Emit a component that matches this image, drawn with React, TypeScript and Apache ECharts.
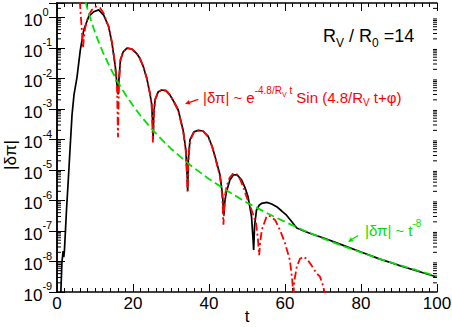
import React, { useEffect, useRef } from "react";
import * as echarts from "echarts";

const FONT = '"Liberation Sans", Arial, Helvetica, sans-serif';

// x range and log y range
const X_MIN = 0;
const X_MAX = 100;
const X_INTERVAL = 20;
const Y_MIN = 1e-9;
const Y_MAX = 3;

// minor log tick multipliers within each decade
const decadeExponents = [-9, -8, -7, -6, -5, -4, -3, -2, -1, 0];
const minorMultipliers = [2, 3, 4, 5, 6, 7, 8, 9];

// full numerical solution |δπ|(t)
const blackT = [1.0, 1.3, 1.6, 1.78, 1.95, 2.2, 2.5, 2.97, 3.42, 3.95, 4.47, 5.26, 6.13, 7.03, 8.34, 9.66, 10.97, 12.29, 13.6, 14.47, 15.34, 15.8, 16.1, 16.35, 16.7, 17.4, 18.4, 19.7, 21.0, 21.8, 22.7, 23.6, 24.4, 24.9, 25.2, 25.3, 25.45, 25.8, 26.6, 27.5, 28.7, 29.7, 30.8, 31.9, 33.2, 33.9, 34.3, 34.4, 34.55, 35.0, 36.05, 37.2, 38.4, 39.8, 40.8, 41.6, 42.9, 43.55, 43.9, 44.2, 44.6, 45.5, 46.4, 47.4, 48.6, 49.5, 50.3, 51.2, 51.6, 51.75, 52.0, 52.5, 53.2, 53.9, 55.2, 56.5, 57.8, 59.0, 60.4, 61.8, 63.1, 65.0, 67.0, 70.0, 75.0, 80.0, 85.0, 90.0, 95.0, 100.0];
const blackV = [9e-10, 9.5e-9, 2.2e-8, 1.4e-8, 2.2e-8, 9e-8, 4.9e-7, 4.7e-6, 4.6e-5, 6.3e-4, 2.9e-3, 1.1e-2, 8.5e-2, 0.39, 1.07, 1.55, 1.78, 1.2, 0.5, 0.145, 0.025, 6e-3, 3e-3, 1.2e-2, 0.041, 0.074, 0.1, 0.093, 0.066, 0.046, 0.025, 0.0105, 3.5e-3, 1.5e-3, 3e-4, 1e-4, 6e-4, 2e-3, 3.6e-3, 4.2e-3, 4e-3, 2.9e-3, 1.7e-3, 9.3e-4, 2e-4, 4.6e-5, 5e-6, 2e-6, 2e-5, 1e-4, 1.8e-4, 2.0e-4, 1.9e-4, 1.26e-4, 6e-5, 2.75e-5, 6.9e-6, 1.5e-6, 3.3e-7, 1e-6, 1.95e-6, 4.7e-6, 6.9e-6, 6.9e-6, 4.7e-6, 2.6e-6, 1.3e-6, 2.9e-7, 5e-8, 2.4e-8, 1.5e-7, 4.9e-7, 7e-7, 8.1e-7, 8.7e-7, 7.7e-7, 6.3e-7, 4.7e-7, 3.3e-7, 2e-7, 1.25e-7, 1e-7, 8e-8, 6e-8, 3.5e-8, 2.05e-8, 1.2e-8, 7.5e-9, 4.8e-9, 3.1e-9];

// damped oscillation fit |δπ| ~ e^{-4.8/Rv t} sin(4.8/Rv t + φ)
const redT = [6.0, 6.3, 6.6, 6.85, 7.05, 7.4, 8.2, 9.2, 10.3, 11.3, 12.3, 13.6, 14.5, 15.3, 15.8, 16.05, 16.3, 16.7, 17.4, 18.4, 19.7, 21.0, 21.8, 22.7, 23.6, 24.4, 24.9, 25.25, 25.5, 25.8, 26.6, 27.5, 28.7, 29.7, 30.8, 31.9, 33.2, 33.9, 34.35, 34.6, 35.0, 36.05, 37.2, 38.4, 39.8, 40.8, 41.6, 42.9, 43.5, 43.8, 44.1, 44.6, 45.4, 46.4, 47.4, 48.2, 49.1, 49.9, 51.2, 52.4, 52.9, 53.2, 53.45, 53.9, 55.2, 56.0, 57.4, 58.7, 60.0, 61.3, 61.9, 62.2, 62.5, 63.1, 63.9, 64.8, 65.8, 66.6, 68.3, 69.2, 70.1, 70.5];
const redV = [3.5, 1.0, 0.3, 0.1, 0.2, 0.45, 1.1, 1.8, 2.3, 2.1, 1.35, 0.5, 0.15, 0.027, 5e-3, 1.2e-4, 6e-3, 0.04, 0.075, 0.1, 0.092, 0.066, 0.046, 0.025, 0.0105, 3.5e-3, 1.4e-3, 8e-5, 8e-4, 2e-3, 3.6e-3, 4.2e-3, 4e-3, 2.9e-3, 1.7e-3, 9e-4, 1.9e-4, 4e-5, 2e-6, 2.5e-5, 9e-5, 1.75e-4, 2.0e-4, 1.9e-4, 1.2e-4, 6e-5, 2.6e-5, 6e-6, 1.3e-6, 1.6e-7, 1.2e-6, 2.8e-6, 5.5e-6, 7.8e-6, 7.2e-6, 4.9e-6, 2.6e-6, 1.3e-6, 4.9e-7, 1.8e-7, 5e-8, 1.6e-8, 4e-8, 1.1e-7, 3.1e-7, 3.1e-7, 2.3e-7, 1.07e-7, 4e-8, 1.1e-8, 2.5e-9, 8e-10, 2.5e-9, 6.8e-9, 1.2e-8, 1.45e-8, 1.2e-8, 8.7e-9, 4.1e-9, 3.2e-9, 1.5e-9, 8e-10];

// power-law tail |δπ| ~ t^-8
const greenT = [7.5, 8, 9, 10, 11, 12, 14, 16, 18, 20, 22, 25, 28, 30, 35, 40, 45, 50, 55, 60, 65, 70, 75, 80, 85, 90, 95, 100];
const greenV = [3.3, 1.97, 0.77, 0.33, 0.154, 0.077, 0.0224, 7.7e-3, 3.0e-3, 1.3e-3, 6.0e-4, 2.17e-4, 8.8e-5, 5.0e-5, 1.47e-5, 5.1e-6, 2.0e-6, 8.5e-7, 4.0e-7, 2.0e-7, 1.04e-7, 5.7e-8, 3.3e-8, 2.0e-8, 1.2e-8, 7.7e-9, 5.0e-9, 3.3e-9];

const zip = (a: number[], b: number[]) => a.map((x, i) => [x, b[i]]);

function arrow(tail: number[], head: number[], color: string) {
  const dx = head[0] - tail[0];
  const dy = head[1] - tail[1];
  const len = Math.hypot(dx, dy);
  const ux = dx / len, uy = dy / len;
  const hl = 5, hw = 2.4;
  const bx = head[0] - ux * hl, by = head[1] - uy * hl;
  return [
    { type: "line", shape: { x1: tail[0], y1: tail[1], x2: bx, y2: by }, style: { stroke: color, lineWidth: 1.3 } },
    {
      type: "polygon",
      shape: { points: [head, [bx - uy * hw, by + ux * hw], [bx + uy * hw, by - ux * hw]] },
      style: { fill: color },
    },
  ];
}

export default function App() {
  const ref = useRef<HTMLDivElement>(null);
  useEffect(() => {
    document.body.style.margin = "0";
    const chart = echarts.init(ref.current!, null, { renderer: "svg" });
    const minorTicks: number[][] = [];
    decadeExponents.forEach((e) =>
      minorMultipliers.forEach((m) => {
        const v = m * Math.pow(10, e);
        if (v < Y_MAX) minorTicks.push([X_MIN, v]);
      })
    );
    const yLabel = (value: number) => {
      const l = Math.log10(value);
      const e = Math.round(l);
      if (Math.abs(l - e) > 1e-6) return "";
      return `{b|10}{s|${e}}`;
    };
    const xAxisCommon = {
      type: "value",
      min: X_MIN,
      max: X_MAX,
      interval: X_INTERVAL,
      axisLine: { show: true, lineStyle: { color: "#000", width: 1.5 } },
      axisTick: { show: true, inside: true, length: 8, lineStyle: { color: "#000", width: 1 } },
      minorTick: { show: true, splitNumber: 10, length: 4, lineStyle: { color: "#000", width: 1 } },
      splitLine: { show: false },
      minorSplitLine: { show: false },
    };
    const yAxisCommon = {
      type: "log",
      logBase: 10,
      min: Y_MIN,
      max: Y_MAX,
      axisLine: { show: true, lineStyle: { color: "#000", width: 1.5 } },
      axisTick: { show: true, inside: true, length: 8, lineStyle: { color: "#000", width: 1 } },
      splitLine: { show: false },
    };
    const option: any = {
      animation: false,
      textStyle: { fontFamily: FONT },
      grid: { left: 57, right: 15, top: 3, bottom: 35, containLabel: false, outerBoundsMode: "none" },
      xAxis: [
        {
          ...xAxisCommon,
          position: "bottom",
          name: "t",
          nameLocation: "middle",
          nameGap: 17,
          nameMoveOverlap: false,
          nameTextStyle: { fontSize: 17, lineHeight: 14, color: "#000", fontFamily: FONT },
          axisLabel: { show: true, fontSize: 17, color: "#000", margin: 3, fontFamily: FONT },
        },
        { ...xAxisCommon, position: "top", axisLabel: { show: false } },
      ],
      yAxis: [
        {
          ...yAxisCommon,
          position: "left",
          axisLabel: {
            show: true,
            formatter: yLabel,
            align: "left",
            margin: 33.5,
            color: "#000",
            rich: {
              b: { fontSize: 17, lineHeight: 23, verticalAlign: "bottom", color: "#000", fontFamily: FONT },
              s: { fontSize: 11, verticalAlign: "top", color: "#000", fontFamily: FONT },
            },
          },
        },
        { ...yAxisCommon, position: "right", axisLabel: { show: false } },
      ],
      series: [
        {
          type: "custom",
          silent: true,
          clip: false,
          xAxisIndex: 0,
          yAxisIndex: 0,
          data: minorTicks,
          encode: { x: 0, y: 1 },
          renderItem: (_p: any, api: any) => {
            const v = api.value(1);
            const l = api.coord([X_MIN, v]);
            const r = api.coord([X_MAX, v]);
            return {
              type: "group",
              children: [
                { type: "line", shape: { x1: l[0], y1: l[1], x2: l[0] + 4, y2: l[1] }, style: { stroke: "#000", lineWidth: 1 } },
                { type: "line", shape: { x1: r[0] - 4, y1: r[1], x2: r[0], y2: r[1] }, style: { stroke: "#000", lineWidth: 1 } },
              ],
            };
          },
        },
        {
          type: "line",
          data: zip(blackT, blackV),
          showSymbol: false,
          lineStyle: { color: "#000", width: 1.7 },
          clip: true,
        },
        {
          type: "line",
          data: zip(redT, redV),
          showSymbol: false,
          lineStyle: { color: "#ff0000", width: 1.8, type: [8, 3, 2, 3] },
          clip: true,
        },
        {
          type: "line",
          data: zip(greenT, greenV),
          showSymbol: false,
          lineStyle: { color: "#00e000", width: 1.8, type: [8, 4] },
          clip: true,
        },
      ],
      graphic: [
        {
          type: "text",
          x: 10,
          y: 155,
          rotation: Math.PI / 2,
          style: { text: "|δπ|", fontSize: 17, fontFamily: FONT, fill: "#000", align: "center", verticalAlign: "middle" },
        },
        {
          type: "text",
          x: 323,
          y: 26.8,
          style: {
            text: "{m|R}{s|V}{m| / R}{s|0}{m| =14}",
            align: "left",
            verticalAlign: "top",
            fill: "#000",
            rich: {
              m: { fontSize: 18, lineHeight: 20, verticalAlign: "top", fontFamily: FONT, fill: "#000" },
              s: { fontSize: 12, verticalAlign: "top", padding: [10, 0, 0, 0], fontFamily: FONT, fill: "#000" },
            },
          },
        },
        {
          type: "text",
          x: 203,
          y: 85.8,
          style: {
            text: "{m||δπ| ~ e}{p|-4.8/R}{q|V}{p| t}{m| Sin (4.8/R}{s|V}{m| t+φ)}",
            align: "left",
            verticalAlign: "top",
            fill: "#ff0000",
            rich: {
              m: { fontSize: 15, lineHeight: 24, verticalAlign: "middle", fontFamily: FONT, fill: "#ff0000" },
              p: { fontSize: 10, verticalAlign: "top", fontFamily: FONT, fill: "#ff0000" },
              q: { fontSize: 7, verticalAlign: "top", padding: [5, 0, 0, 0], fontFamily: FONT, fill: "#ff0000" },
              s: { fontSize: 10, verticalAlign: "top", padding: [11.5, 0, 0, 0], fontFamily: FONT, fill: "#ff0000" },
            },
          },
        },
        {
          type: "text",
          x: 365,
          y: 218,
          style: {
            text: "{m||δπ| ~ t}{p|-8}",
            align: "left",
            verticalAlign: "top",
            fill: "#00e000",
            rich: {
              m: { fontSize: 15, lineHeight: 24, verticalAlign: "middle", fontFamily: FONT, fill: "#00e000" },
              p: { fontSize: 10, verticalAlign: "top", fontFamily: FONT, fill: "#00e000" },
            },
          },
        },
        ...arrow([198.3, 99.3], [185, 104], "#ff0000"),
        ...arrow([358, 235.5], [348, 242], "#00e000"),
      ],
    };
    chart.setOption(option);
    return () => chart.dispose();
  }, []);
  return <div ref={ref} style={{ width: 452, height: 327 }} />;
}
